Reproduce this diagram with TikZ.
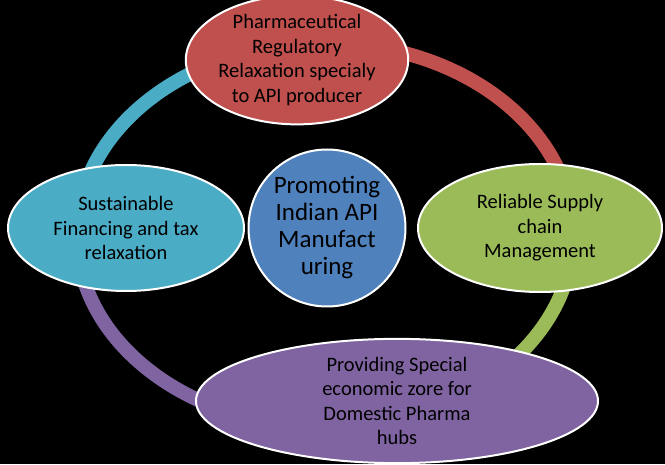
\documentclass[tikz,border=0pt]{standalone}
\usepackage{fontspec}
\setmainfont{Carlito}
\usetikzlibrary{shapes.geometric}
\definecolor{cred}{HTML}{C0504D}
\definecolor{cgreen}{HTML}{9BBB59}
\definecolor{cpurple}{HTML}{8064A2}
\definecolor{cteal}{HTML}{4BACC6}
\definecolor{cblue}{HTML}{4F81BD}
\tikzset{
  ell/.style={ellipse,draw=white,line width=2pt,inner sep=0pt,align=center,font=\fontsize{20.5}{24.5}\selectfont,text=black},
  ring/.style={line width=14pt}
}
\begin{document}
\begin{tikzpicture}[x=1pt,y=1pt]
\fill[black] (0,0) rectangle (665,464);
\useasboundingbox (0,0) rectangle (665,464);
\draw[ring,cred] (325,421) arc[start angle=90,end angle=0,x radius=248,y radius=192];
\draw[ring,cgreen] (573,229) arc[start angle=0,end angle=-90,x radius=248,y radius=192];
\draw[ring,cpurple] (325,37) arc[start angle=-90,end angle=-180,x radius=248,y radius=192];
\draw[ring,cteal] (77,229) arc[start angle=180,end angle=90,x radius=248,y radius=192];
\node[ell,fill=cred,minimum width=212,minimum height=100] (top) at (297,404) {Pharmaceutical\\Regulatory\\Relaxation specialy\\to API producer};
\node[ell,fill=cgreen,minimum width=244,minimum height=128] (right) at (540,236) {Reliable Supply\\chain\\Management};
\node[ell,fill=cpurple,minimum width=402,minimum height=112] (bottom) at (397,63) {Providing Special\\economic zore for\\Domestic Pharma\\hubs};
\node[ell,fill=cteal,minimum width=236,minimum height=126] (left) at (126,236) {Sustainable\\Financing and tax\\relaxation};
\node[circle,draw=white,line width=2pt,fill=cblue,minimum size=157,inner sep=0pt,align=center,font=\fontsize{25}{27}\selectfont,text=black] (c) at (327,236) {Promoting\\Indian API\\Manufact\\uring};
\end{tikzpicture}
\end{document}
